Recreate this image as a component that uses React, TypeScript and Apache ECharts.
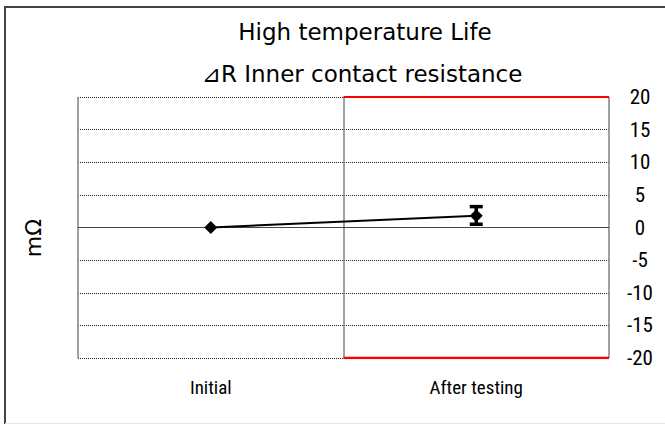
import React, { useEffect, useRef } from "react";
import * as echarts from "echarts";

const categories = ["Initial", "After testing"];
const meanValues = [0, 1.8];
const errorLow = [0, 0.5];
const errorHigh = [0, 3.2];
const specX = [1, 2];
const specUpper = [20, 20];
const specLower = [-20, -20];
const titleLines = ["High temperature Life", "⊿R Inner contact resistance"];
const yAxisName = "mΩ";
const yMin = -20;
const yMax = 20;
const yStep = 5;

const NARROW = "'Liberation Sans Narrow', 'Arial Narrow', 'Roboto Condensed', sans-serif";
const TITLE = "'DejaVu Sans', 'Noto Sans CJK JP', sans-serif";

export default function App() {
  const ref = useRef<HTMLDivElement>(null);
  useEffect(() => {
    if (!ref.current) return;
    const chart = echarts.init(ref.current, undefined, { renderer: "svg" });
    const errData = categories.map((_, i) => [i, errorLow[i], errorHigh[i]]);
    chart.setOption({
      animation: false,
      backgroundColor: "#ffffff",
      grid: { left: 78, right: 56, top: 97, bottom: 67 },
      graphic: [
        { type: "line", shape: { x1: 5, y1: 6, x2: 5, y2: 424 }, style: { stroke: "#444", lineWidth: 2 } },
        { type: "line", shape: { x1: 4, y1: 7, x2: 665, y2: 7 }, style: { stroke: "#444", lineWidth: 2 } },
        { type: "line", shape: { x1: 5, y1: 423.5, x2: 665, y2: 423.5 }, style: { stroke: "#e6e6e6", lineWidth: 1 } },
        {
          type: "text", x: 365, y: 32,
          style: { text: titleLines[0], fontSize: 23, fontFamily: TITLE, fill: "#000", align: "center", verticalAlign: "middle" },
        },
        {
          type: "text", x: 362, y: 74,
          style: { text: titleLines[1], fontSize: 23, fontFamily: TITLE, fill: "#000", align: "center", verticalAlign: "middle" },
        },
        {
          type: "text", x: 33, y: 238, rotation: Math.PI / 2,
          style: { text: yAxisName, fontSize: 22, fontFamily: TITLE, fill: "#000", align: "center", verticalAlign: "middle" },
        },
      ],
      xAxis: [
        {
          type: "category",
          data: categories,
          boundaryGap: true,
          axisLine: { show: false },
          axisTick: { show: false },
          splitLine: { show: true, lineStyle: { color: "#808080", width: 1.5 } },
          axisLabel: { fontSize: 19, color: "#000", margin: 20, fontFamily: NARROW },
        },
        { type: "value", min: 0, max: 2, show: false },
      ],
      yAxis: {
        type: "value",
        position: "right",
        min: yMin,
        max: yMax,
        interval: yStep,
        axisLine: { show: false },
        axisTick: { show: false },
        splitLine: { show: true, lineStyle: { type: "dotted", color: "#222", width: 1 } },
        axisLabel: { fontSize: 21, color: "#000", margin: 31, align: "center", fontFamily: NARROW },
      },
      series: [
        {
          type: "line",
          xAxisIndex: 1,
          data: specX.map((x, i) => [x, specUpper[i]]),
          symbol: "none",
          lineStyle: { color: "#ff0000", width: 2 },
          silent: true,
          z: 3,
        },
        {
          type: "line",
          xAxisIndex: 1,
          data: specX.map((x, i) => [x, specLower[i]]),
          symbol: "none",
          lineStyle: { color: "#ff0000", width: 2.5 },
          silent: true,
          z: 3,
        },
        {
          type: "line",
          xAxisIndex: 0,
          data: meanValues,
          symbol: "diamond",
          symbolSize: 13,
          itemStyle: { color: "#000" },
          lineStyle: { color: "#000", width: 2 },
          z: 5,
          markLine: {
            silent: true,
            symbol: "none",
            label: { show: false },
            lineStyle: { type: "solid", color: "#444", width: 1 },
            data: [{ yAxis: 0 }],
          },
        },
        {
          type: "custom",
          xAxisIndex: 0,
          data: errData,
          z: 6,
          renderItem: (params: any, api: any) => {
            const lo = api.value(1);
            const hi = api.value(2);
            if (hi <= lo) return null;
            const x = api.value(0);
            const pLo = api.coord([x, lo]);
            const pHi = api.coord([x, hi]);
            const hw = 6.5;
            const st = { stroke: "#000", lineWidth: 3.5 };
            return {
              type: "group",
              children: [
                { type: "line", shape: { x1: pLo[0], y1: pLo[1], x2: pHi[0], y2: pHi[1] }, style: st },
                { type: "line", shape: { x1: pLo[0] - hw, y1: pLo[1], x2: pLo[0] + hw, y2: pLo[1] }, style: st },
                { type: "line", shape: { x1: pHi[0] - hw, y1: pHi[1], x2: pHi[0] + hw, y2: pHi[1] }, style: st },
              ],
            };
          },
        },
      ],
    });
    return () => chart.dispose();
  }, []);
  return (
    <div
      ref={ref}
      style={{ position: "fixed", left: 0, top: 0, width: 665, height: 425 }}
    />
  );
}
